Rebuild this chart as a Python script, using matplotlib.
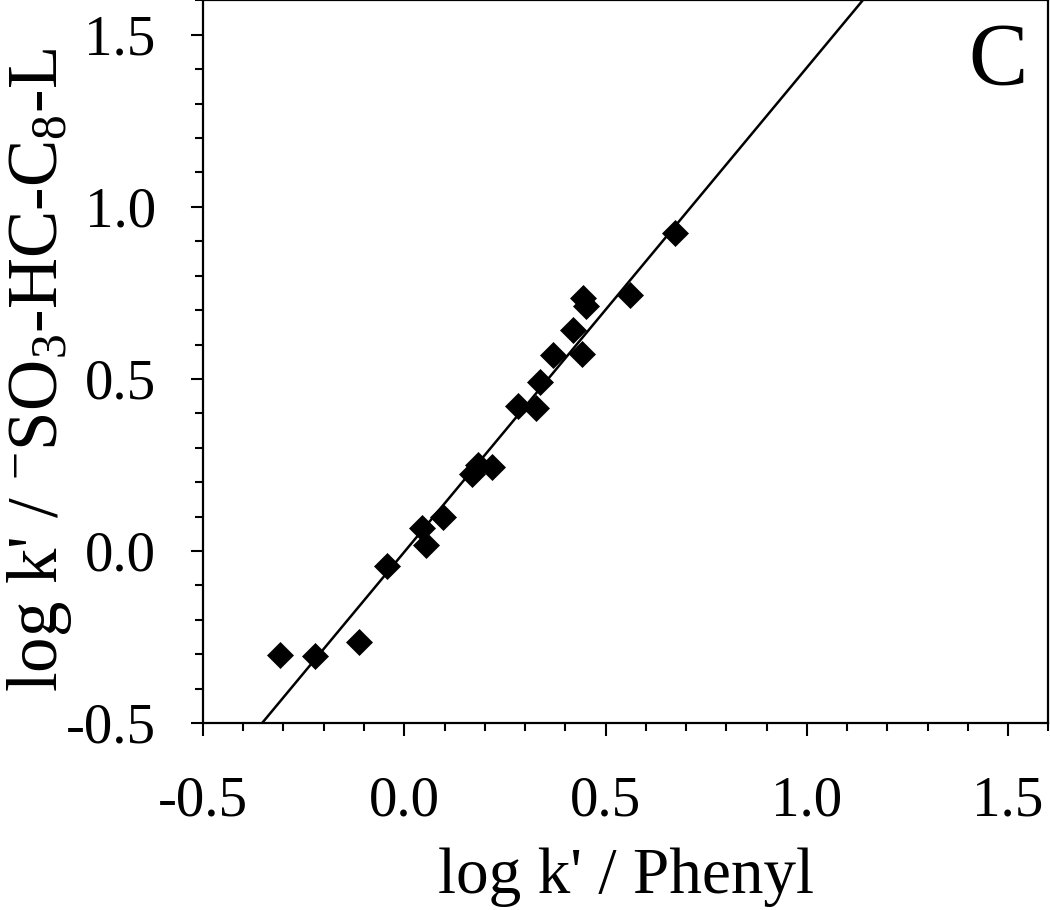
import numpy as np
import matplotlib
matplotlib.use("Agg")
import matplotlib.pyplot as plt
from matplotlib.ticker import MultipleLocator

plt.rcParams['font.family'] = ['Liberation Serif', 'DejaVu Serif']
plt.rcParams['mathtext.fontset'] = 'custom'
plt.rcParams['mathtext.rm'] = 'Liberation Serif'
plt.rcParams['mathtext.it'] = 'Liberation Serif:italic'

# log k' values
phenyl = [-0.308, -0.222, -0.113, -0.044, 0.044, 0.054, 0.096, 0.168, 0.183,
          0.218, 0.282, 0.327, 0.337, 0.369, 0.419, 0.441, 0.444, 0.452,
          0.561, 0.672]
so3_c8 = [-0.303, -0.305, -0.265, -0.044, 0.067, 0.017, 0.099, 0.224, 0.250,
          0.244, 0.421, 0.415, 0.491, 0.569, 0.641, 0.572, 0.735, 0.712,
          0.744, 0.924]

# regression line (slope, intercept) as drawn
slope = 1.408
intercept = -0.003

fig = plt.figure(figsize=(10.5, 9.1), dpi=100)
ax = fig.add_axes([0.1933, 0.2055, 0.8052, 0.794])

xl = np.array([-0.5, 1.6])
ax.plot(xl, slope * xl + intercept, color='black', lw=1.8)
ax.plot(phenyl, so3_c8, 'D', color='black', ms=13, mew=0.5)

ax.set_xlim(-0.5, 1.6)
ax.set_ylim(-0.5, 1.6)
ax.xaxis.set_major_locator(MultipleLocator(0.5))
ax.xaxis.set_minor_locator(MultipleLocator(0.1))
ax.yaxis.set_major_locator(MultipleLocator(0.5))
ax.yaxis.set_minor_locator(MultipleLocator(0.1))
ax.tick_params(which='major', length=9, width=1.5, labelsize=41)
ax.tick_params(axis='x', which='major', pad=29)
ax.tick_params(axis='y', which='major', pad=25)
ax.tick_params(which='minor', length=5.5, width=1.5)
ax.xaxis.set_major_formatter(plt.FuncFormatter(lambda v, p: f"{v:.1f}"))
ax.yaxis.set_major_formatter(plt.FuncFormatter(lambda v, p: f"{v:.1f}"))
for s in ax.spines.values():
    s.set_linewidth(1.6)

ax.set_xlabel("log k' / Phenyl", fontsize=47, labelpad=14)
ax.set_ylabel(r"log k' / $^{-}$SO$_3$-HC-C$_8$-L", fontsize=51, labelpad=0)
ax.yaxis.set_label_coords(-0.152, 0.488)
ax.text(0.94, 0.915, "C", transform=ax.transAxes, fontsize=64,
        ha='center', va='center')

fig.savefig("out.png", dpi=100)
